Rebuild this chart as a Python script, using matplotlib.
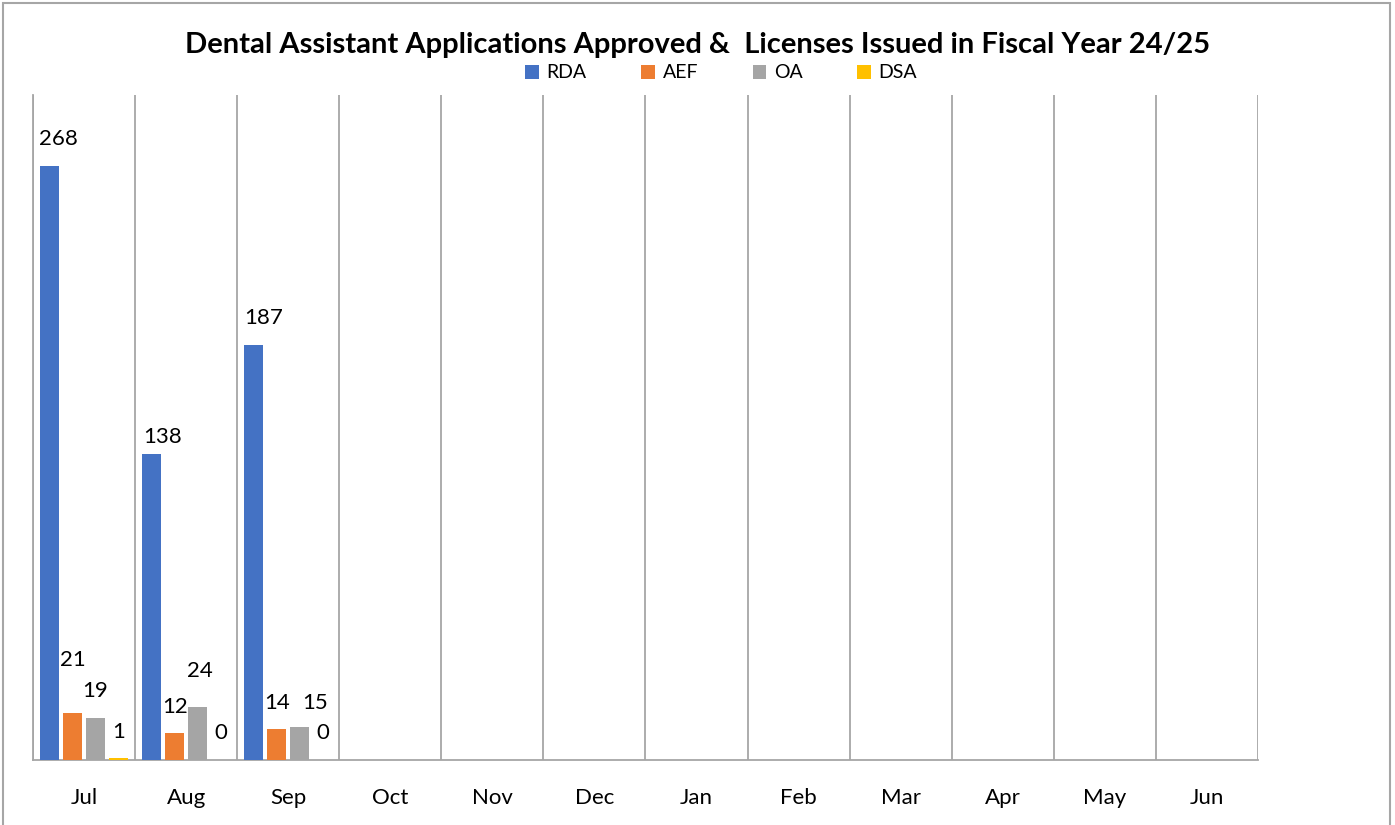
import numpy as np
import matplotlib.pyplot as plt
from matplotlib.patches import Rectangle

plt.rcParams['font.family'] = ['Lato', 'DejaVu Sans']

months = ["Jul", "Aug", "Sep", "Oct", "Nov", "Dec", "Jan", "Feb", "Mar", "Apr", "May", "Jun"]
series = ["RDA", "AEF", "OA", "DSA"]
colors = ["#4472C4", "#ED7D31", "#A5A5A5", "#FFC000"]

rda = [268, 138, 187]
aef = [21, 12, 14]
oa = [19, 24, 15]
dsa = [1, 0, 0]
values = [rda, aef, oa, dsa]

# label nudges (pixels) - the labels in the original were dragged around a bit
label_dx = [[9, 11, 10], [0, 0, 0], [0, 2, 15], [0, 0, 0]]
label_dy = [[27, 17, 27], [53, 26, 26], [27, 36, 24], [26, 27, 27]]

fig = plt.figure(figsize=(13.95, 8.25), dpi=100)
ax = fig.add_axes([33 / 1395, 65 / 825, 1225 / 1395, 665 / 825])

x = np.arange(len(months))
bw = 0.186
step = 0.2255
for i, (name, vals) in enumerate(zip(series, values)):
    xs = x[:len(vals)] + (i - 1.5) * step
    ax.bar(xs, vals, width=bw, color=colors[i], label=name, zorder=3)
    for j, v in enumerate(vals):
        ax.annotate(str(v), (xs[j], v), xytext=(label_dx[i][j], label_dy[i][j]),
                    textcoords="offset pixels", ha="center", va="center",
                    fontsize=16, color="#000000")

ax.set_xlim(-0.5, len(months) - 0.5)
ax.set_ylim(0, 300)
ax.set_xticks(x)
ax.set_xticklabels(months, fontsize=16)
ax.set_xticks(np.arange(len(months) + 1) - 0.5, minor=True)
ax.tick_params(axis="x", which="both", length=0, pad=20)
ax.grid(axis="x", which="minor", color="#A6A6A6", linewidth=1.3, zorder=0)
ax.set_yticks([])
for s in ["top", "right"]:
    ax.spines[s].set_visible(False)
ax.spines["left"].set_color("#A6A6A6")
ax.spines["left"].set_linewidth(1.3)
ax.spines["bottom"].set_color("#A6A6A6")
ax.spines["bottom"].set_linewidth(1.3)

fig.text(0.5, 1 - 45 / 825, "Dental Assistant Applications Approved &  Licenses Issued in Fiscal Year 24/25",
         ha="center", va="center", fontsize=21, fontweight="bold")
fig.legend(loc="center", bbox_to_anchor=(0.517, 1 - 73 / 825), ncol=4, frameon=False,
           fontsize=14, handlelength=0.7, handleheight=0.7, handletextpad=0.4, columnspacing=2.8)

fig.patches.append(Rectangle((3 / 1395, -0.01), 1387 / 1395, 1.0 - 3 / 825 + 0.01,
                             transform=fig.transFigure, fill=False, edgecolor="#A6A6A6", linewidth=1.5))

fig.savefig("out.png", dpi=100)
